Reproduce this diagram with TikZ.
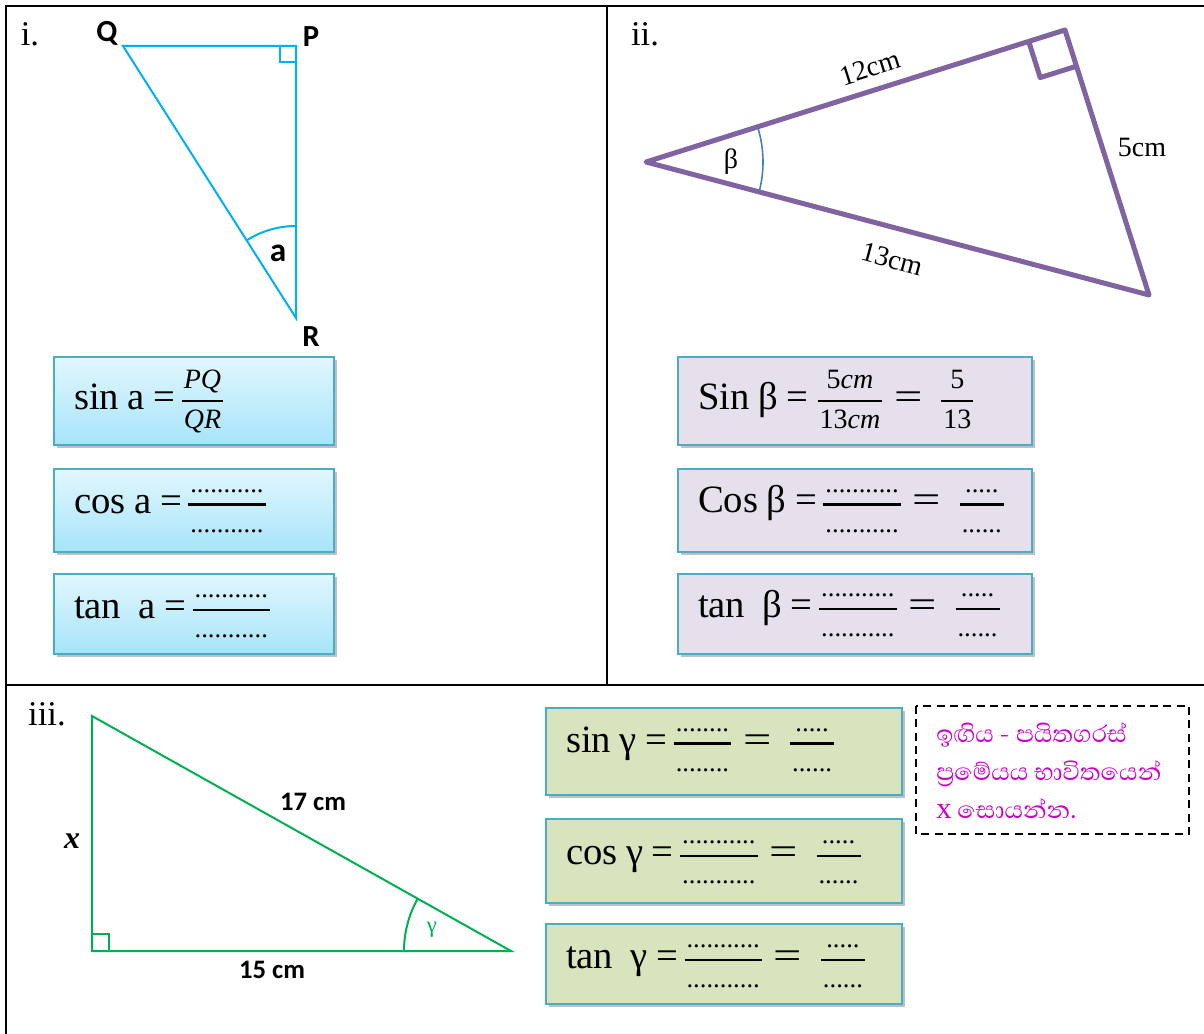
\documentclass[tikz,border=0pt]{standalone}
\usepackage{fontspec}
\usepackage{graphicx}
\setmainfont{Liberation Serif}
\newfontfamily\calib{Carlito}
\newfontfamily\sinhfont[Script=Sinhala]{Abhaya Libre}
\usetikzlibrary{shadows}
\definecolor{cyanl}{HTML}{00B0F0}
\definecolor{purp}{HTML}{8064A2}
\definecolor{grn}{HTML}{00B050}
\definecolor{arcblue}{HTML}{4A7EBB}
\definecolor{boxedge}{HTML}{4BACC6}
\definecolor{ctop}{HTML}{E2F7FE}
\definecolor{cbot}{HTML}{A6E4F9}
\definecolor{lav}{HTML}{E5E0EC}
\definecolor{olive}{HTML}{D7E4BD}
\definecolor{mag}{HTML}{CC00CC}
\newcommand\fr[3][20]{{\renewcommand\arraystretch{0}\setlength\arrayrulewidth{2pt}%
\begin{tabular}[c]{@{\hspace{1.5pt}}c@{\hspace{1.5pt}}}%
\fontsize{#1}{#1}\selectfont\rule[-8pt]{0pt}{20pt}\smash{#2}\\\hline
\fontsize{#1}{#1}\selectfont\rule{0pt}{20pt}\smash{#3}%
\end{tabular}}}
\newcommand\lift[1]{\rule[-#1]{0pt}{0pt}}
\newcommand\beq{\hspace{9pt}\scalebox{1.3}[1]{=}\hspace{14pt}}
\newcommand\gap{\hspace{6.5pt}}
\def\dA{...........}
\def\dB{........}
\def\dC{.....}
\def\dD{......}
\tikzset{
  frameline/.style={line width=1.5pt, black},
  basebox/.style={draw=boxedge, line width=1.5pt, anchor=north west, inner xsep=15pt, inner ysep=0pt,
     align=left, font=\fontsize{29}{34}\selectfont,
     drop shadow={shadow xshift=2pt, shadow yshift=-2.5pt, opacity=0.35, fill=black!70}},
  boxi/.style={basebox, text width=180pt, top color=ctop, bottom color=cbot},
  boxii/.style={basebox, text width=235.5pt, fill=lav},
  boxiii/.style={basebox, text width=237pt, fill=olive},
  numlbl/.style={font=\fontsize{26}{30}\selectfont, inner sep=0pt},
  cal/.style={font=\calib\bfseries\fontsize{23}{26}\selectfont, inner sep=0pt},
  tms/.style={font=\fontsize{21}{24}\selectfont, inner sep=0pt},
  tri i/.style={cyanl, line width=1.5pt, line join=miter},
  tri ii/.style={purp, line width=3.75pt, line join=round, line cap=round},
  tri iii/.style={grn, line width=1.5pt, line join=miter},
}
\begin{document}
\begin{tikzpicture}[x=0.75pt, y=-0.75pt]
\useasboundingbox[fill=white] (0,0) rectangle (1204,1034);
% table lines
\coordinate (tl) at (6,6);
\coordinate (tr) at (1204,6);
\coordinate (bl) at (6,1034);
\coordinate (mt) at (607,6);
\coordinate (mm) at (607,685);
\coordinate (ml) at (6,685);
\coordinate (mr) at (1204,685);
\draw[frameline] (tr) -- (tl) -- (bl);
\draw[frameline] (mt) -- (mm);
\draw[frameline] (ml) -- (mr);

% ---------- part i ----------
\node[numlbl] (li) at (30,34) {i.};
\coordinate (Q) at (123,46);
\coordinate (P) at (296,46);
\coordinate (R) at (296,318);
\draw[tri i] (Q) -- (P) -- (R) -- cycle;
\draw[tri i] (280,46) -- (280,62) -- (296,62);
\draw[tri i] (R) ++(-90:92) arc[start angle=-90, end angle=-122.5, radius=92];
\node[cal] (lQ) at (107,33) {Q};
\node[cal] (lP) at (311,37) {P};
\node[cal] (lR) at (311,337) {R};
\node[cal, font=\calib\bfseries\fontsize{25}{28}\selectfont] (la) at (278,253) {a};

\node[boxi, minimum height=66pt] (b11) at (53,356) {sin\gap a\gap=\,\fr[21]{\itshape PQ}{\itshape QR}};
\node[boxi, minimum height=62.25pt] (b12) at (53,468) {cos\gap a\gap=\,\fr{\dA}{\dA}\lift{23.3pt}};
\node[boxi, minimum height=60pt] (b13) at (53,573) {tan\hspace{13pt}a\gap=\,\fr{\dA}{\dA}\lift{21pt}};

% ---------- part ii ----------
\node[numlbl] (lii) at (645,34) {ii.};
\coordinate (A) at (646,162);
\coordinate (B) at (1065,30);
\coordinate (C) at (1149,295);
\draw[tri ii] (A) -- (B) -- (C) -- cycle;
\draw[purp, line width=3.75pt, line join=round] (1028.7,41.4) -- (1040.2,77.6) -- (1076.5,66.2);
\draw[arcblue, line width=1.2pt] (A) ++(-17.5:117) arc[start angle=-17.5, end angle=14.8, radius=117];
\node[tms, rotate=17.5] (l12) at (870,68) {12cm};
\node[tms] (l5) at (1142,147) {5cm};
\node[tms, rotate=-15] (l13) at (892,259) {13cm};
\node[tms] (lbeta) at (731,162) {β};

\node[boxii, minimum height=66pt] (b21) at (677,356) {Sin\gap β\gap=\hspace{7pt}\fr[21]{5\itshape cm}{13\itshape cm}\beq\fr[21]{5}{13}};
\node[boxii, minimum height=62.25pt] (b22) at (677,468) {Cos\gap β\gap=\,\fr{\dA}{\dA}\beq\fr{\dC}{\dD}\lift{24pt}};
\node[boxii, minimum height=60pt] (b23) at (677,573) {tan\hspace{13pt}β\gap=\,\fr{\dA}{\dA}\beq\fr{\dC}{\dD}\lift{22.5pt}};

% ---------- part iii ----------
\node[numlbl] (liii) at (47,714) {iii.};
\coordinate (U) at (92,716);
\coordinate (V) at (92,951);
\coordinate (T) at (511,951);
\draw[tri iii] (U) -- (V) -- (T) -- cycle;
\draw[tri iii] (92,934) -- (109,934) -- (109,951);
\draw[tri iii] (T) ++(180:107) arc[start angle=180, end angle=209.3, radius=107];
\node[cal, font=\calib\bfseries\fontsize{20}{24}\selectfont] (l17) at (313,802) {17 cm};
\node[cal, font=\calib\bfseries\fontsize{20}{24}\selectfont] (l15) at (272,970) {15 cm};
\node[inner sep=0pt, font=\bfseries\itshape\fontsize{24}{26}\selectfont] (lx) at (72,841) {x};
\node[inner sep=0pt, grn, font=\fontsize{17}{20}\selectfont] (lgam) at (432,930) {γ};

\node[boxiii, minimum height=65.25pt] (b31) at (545,707) {sin\gap γ\gap=\,\fr{\dB}{\dB}\beq\fr{\dC}{\dD}\lift{26.3pt}};
\node[boxiii, minimum height=63pt] (b32) at (545,818) {cos\gap γ\gap=\,\fr{\dA}{\dA}\beq\fr{\dC}{\dD}\lift{22.5pt}};
\node[boxiii, minimum height=60pt] (b33) at (545,923) {tan\hspace{13pt}γ\gap=\,\fr{\dA}{\dA}\beq\fr{\dC}{\dD}\lift{21pt}};

% hint box
\draw[black, line width=1.3pt, dash pattern=on 6pt off 4pt] (916,706) rectangle (1189,834);
\node[anchor=north west, align=left, inner sep=0pt, mag, font=\sinhfont\fontsize{23}{28.5}\selectfont] (hint) at (936,722)
  {ඉඟිය - පයිතගරස්\\ප්^^^^200dරමේයය භාවිතයෙන්\\{\rmfamily x} සොයන්න.};
\end{tikzpicture}
\end{document}
